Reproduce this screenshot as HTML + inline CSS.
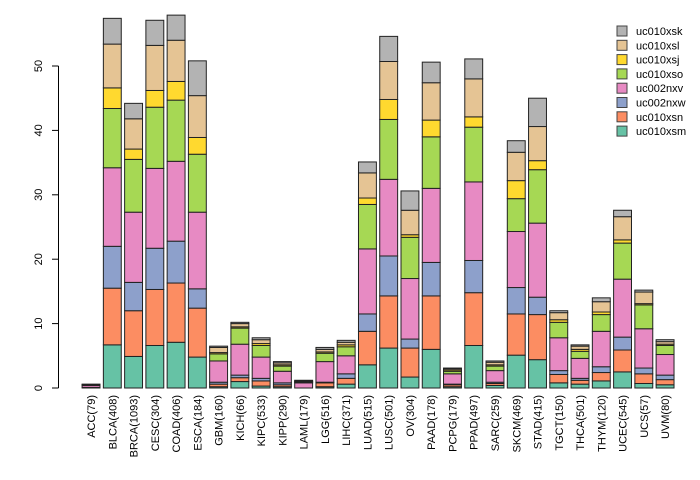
<!DOCTYPE html>
<html><head><meta charset="utf-8"><style>
body{margin:0;background:#fff;}
svg{display:block;font-family:"Liberation Sans",sans-serif;}
</style></head><body>
<svg id="chart" width="700" height="480" viewBox="0 0 700 480"></svg>
<script>
const categories=["ACC(79)","BLCA(408)","BRCA(1093)","CESC(304)","COAD(406)","ESCA(184)","GBM(160)","KICH(66)","KIPC(533)","KIPP(290)","LAML(179)","LGG(516)","LIHC(371)","LUAD(515)","LUSC(501)","OV(304)","PAAD(178)","PCPG(179)","PPAD(497)","SARC(259)","SKCM(469)","STAD(415)","TGCT(150)","THCA(501)","THYM(120)","UCEC(545)","UCS(57)","UVM(80)"];
const seriesNames=["uc010xsm","uc010xsn","uc002nxw","uc002nxv","uc010xso","uc010xsj","uc010xsl","uc010xsk"];
const colors=["#66C2A5","#FC8D62","#8DA0CB","#E78AC3","#A6D854","#FFD92F","#E5C494","#B3B3B3"];
const uc010xsm=[0,6.7,4.9,6.6,7.1,4.8,0.2,1.0,0.3,0.2,0,0.2,0.6,3.6,6.2,1.7,6.0,0.2,6.6,0.4,5.1,4.4,0.8,0.6,1.1,2.5,0.7,0.5];
const uc010xsn=[0.1,8.8,7.1,8.7,9.2,7.6,0.4,0.6,0.8,0.3,0,0.6,0.9,5.2,8.1,4.5,8.3,0.3,8.2,0.3,6.4,7.0,1.3,0.6,1.3,3.4,1.5,0.8];
const uc002nxw=[0,6.5,4.4,6.4,6.5,3.0,0.3,0.4,0.4,0.3,0,0.1,0.7,2.7,6.2,1.4,5.2,0.1,5.0,0.2,4.1,2.7,0.6,0.3,0.9,2.0,0.9,0.7];
const uc002nxv=[0.3,12.2,10.9,12.4,12.4,11.9,3.3,4.8,3.3,1.8,0.8,3.2,2.8,10.1,11.9,9.4,11.5,1.6,12.2,1.8,8.7,11.5,5.1,3.1,5.5,9.0,6.1,3.2];
const uc010xso=[0.05,9.2,8.2,9.5,9.5,9.0,1.1,2.5,1.8,0.8,0.1,1.3,1.4,6.9,9.3,6.4,8.0,0.4,8.5,0.7,5.1,8.3,2.4,1.1,2.6,5.6,3.7,1.4];
const uc010xsj=[0.05,3.2,1.6,2.6,2.9,2.6,0.2,0.2,0.3,0.2,0.1,0.2,0.3,1.0,3.1,0.4,2.6,0.2,1.6,0.2,2.8,1.4,0.4,0.3,0.4,0.5,0.2,0.2];
const uc010xsl=[0.05,6.8,4.7,7.0,6.4,6.5,0.8,0.5,0.6,0.3,0.1,0.4,0.4,3.9,5.9,3.8,5.8,0.2,5.9,0.4,4.4,5.3,1.1,0.5,1.6,3.6,1.8,0.4];
const uc010xsk=[0.05,4.0,2.4,3.9,3.9,5.4,0.2,0.2,0.3,0.2,0.1,0.3,0.3,1.7,3.9,3.0,3.2,0.1,3.1,0.2,1.8,4.4,0.3,0.2,0.6,1.0,0.3,0.3];
const series=[uc010xsm,uc010xsn,uc002nxw,uc002nxv,uc010xso,uc010xsj,uc010xsl,uc010xsk];
const yTicks=[0,10,20,30,40,50];

const NS="http://www.w3.org/2000/svg";
const svg=document.getElementById("chart");
function mk(t,a,p){const e=document.createElementNS(NS,t);for(const k in a)e.setAttribute(k,a[k]);(p||svg).appendChild(e);return e;}
const y=v=>388-v*6.44;
const step=21.26, bw=17.9;
const x=i=>82.1+i*step;

const gBars=mk("g",{});


categories.forEach((c,i)=>{
  let cum=0;
  series.forEach((s,k)=>{
    const v=s[i];
    const r=mk("rect",{x:x(i),y:y(cum+v),width:bw,height:Math.max(0,y(cum)-y(cum+v)),fill:colors[k],stroke:"#222","stroke-width":1},gBars);
    
    
    cum+=v;
  });
  const t=mk("text",{x:0,y:0,"font-size":11,fill:"#000","text-anchor":"end",transform:`translate(${x(i)+bw/2+4},395) rotate(-90)`});
  t.textContent=c;
  
  
});

const ax=mk("g",{});


mk("line",{x1:58.5,x2:58.5,y1:y(0),y2:y(50),stroke:"#000"},ax);
yTicks.forEach(v=>{
  mk("line",{x1:52,x2:58.5,y1:y(v),y2:y(v),stroke:"#000"},ax);
  const t=mk("text",{x:0,y:0,"font-size":11,"text-anchor":"middle",transform:`translate(42,${y(v)}) rotate(-90)`},ax);
  t.textContent=v;
  
  
});

const lg=mk("g",{});


for(let k=7;k>=0;k--){
  const row=7-k, yy=31+row*14.3;
  const r=mk("rect",{x:617,y:yy-5,width:10,height:10,fill:colors[k],stroke:"#444"},lg);
  
  
  const t=mk("text",{x:636,y:yy+4,"font-size":11,fill:"#000"},lg);
  t.textContent=seriesNames[k];
  
  
}
</script>
</body></html>
